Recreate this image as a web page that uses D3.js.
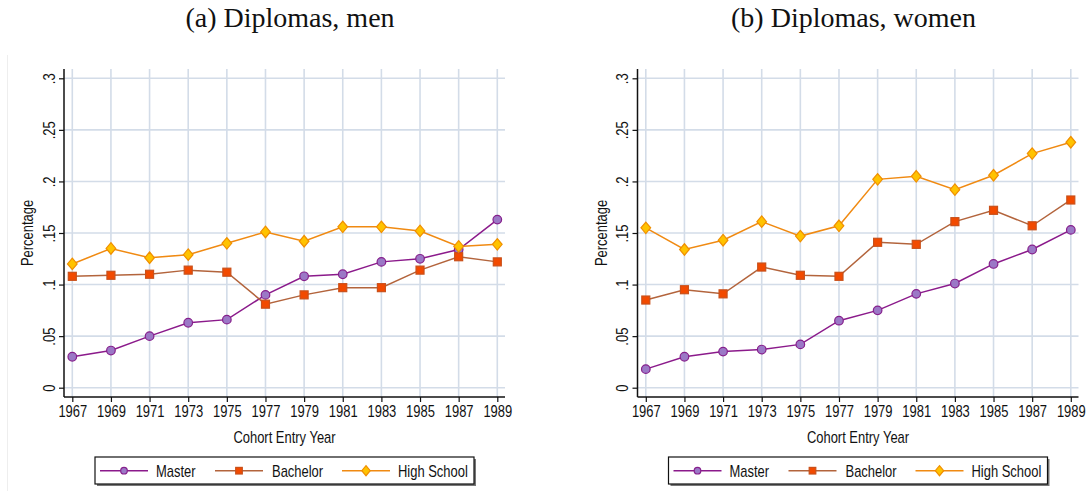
<!DOCTYPE html>
<html>
<head>
<meta charset="utf-8">
<script src="https://cdn.jsdelivr.net/npm/d3@7"></script>
<style>
  body { margin: 0; background: #fff; }
  svg { display: block; }
  text { font-family: "Liberation Sans", Arial, sans-serif; fill: #111; }
  .title { font-family: "Liberation Serif", "Times New Roman", serif; }
</style>
</head>
<body>
<svg id="chart" width="1086" height="491"></svg>
<script>
// cohort entry years
const years = [1967, 1969, 1971, 1973, 1975, 1977, 1979, 1981, 1983, 1985, 1987, 1989];

// men
const menMaster = [0.030, 0.036, 0.050, 0.063, 0.066, 0.090, 0.108, 0.110, 0.122, 0.125, 0.134, 0.163];
const menBachelor = [0.108, 0.109, 0.110, 0.114, 0.112, 0.081, 0.090, 0.097, 0.097, 0.114, 0.127, 0.122];
const menHighSchool = [0.120, 0.135, 0.126, 0.129, 0.140, 0.151, 0.142, 0.156, 0.156, 0.152, 0.137, 0.139];

// women
const womenMaster = [0.018, 0.030, 0.035, 0.037, 0.042, 0.065, 0.075, 0.091, 0.101, 0.120, 0.134, 0.153];
const womenBachelor = [0.085, 0.095, 0.091, 0.117, 0.109, 0.108, 0.141, 0.139, 0.161, 0.172, 0.157, 0.182];
const womenHighSchool = [0.155, 0.134, 0.143, 0.161, 0.147, 0.157, 0.202, 0.205, 0.192, 0.206, 0.227, 0.238];

const yTicks = [0, 0.05, 0.1, 0.15, 0.2, 0.25, 0.3];
const yTickLabels = ["0", ".05", ".1", ".15", ".2", ".25", ".3"];
const seriesNames = ["Master", "Bachelor", "High School"];
const panelTitles = ["(a) Diplomas, men", "(b) Diplomas, women"];

const styles = [
  { line: "#8b1a8b", fill: "#9b78c6", stroke: "#86208c", shape: "circle" },
  { line: "#b3643c", fill: "#f24a00", stroke: "#c9501a", shape: "square" },
  { line: "#f08a12", fill: "#ffc300", stroke: "#f08f00", shape: "diamond" }
];

const svg = d3.select("#chart");
const NARROW = 0.81;

// faint outer frame of the left graph
svg.append("line")
  .attr("x1", 7.5).attr("x2", 7.5).attr("y1", 55).attr("y2", 491)
  .style("stroke", "#eeeeee").style("stroke-width", 1);

function drawMarker(g, shape, cx, cy, st, size) {
  if (shape === "circle") {
    g.append("circle").attr("cx", cx).attr("cy", cy).attr("r", size)
      .style("fill", st.fill).style("stroke", st.stroke).style("stroke-width", 1.2);
  } else if (shape === "square") {
    g.append("rect").attr("x", cx - size).attr("y", cy - size)
      .attr("width", size * 2).attr("height", size * 2)
      .style("fill", st.fill).style("stroke", st.stroke).style("stroke-width", 1.2);
  } else {
    const w = size * 1.05, h = size * 1.25;
    g.append("path")
      .attr("d", `M${cx},${cy - h}L${cx + w},${cy}L${cx},${cy + h}L${cx - w},${cy}Z`)
      .style("fill", st.fill).style("stroke", st.stroke).style("stroke-width", 1.2);
  }
}

function drawPanel(dx, title, titleX, data) {
  const g = svg.append("g").attr("transform", `translate(${dx},0)`);

  const left = 64, right = 505, top = 69, bottom = 397;

  const x = d3.scaleLinear().domain([1967, 1989]).range([72.3, 497.3]);
  const y = d3.scaleLinear().domain([0, 0.3]).range([387.7, 78.3]);

  // title
  g.append("text")
    .attr("class", "title")
    .attr("x", titleX).attr("y", 27)
    .attr("text-anchor", "middle")
    .attr("font-size", "28px")
    .text(title);

  // grid
  g.append("g").selectAll("line")
    .data(yTicks).enter().append("line")
    .attr("x1", left).attr("x2", right)
    .attr("y1", d => y(d)).attr("y2", d => y(d))
    .style("stroke", "#d3dce8").style("stroke-width", 1.6);

  g.append("g").selectAll("line")
    .data(years).enter().append("line")
    .attr("x1", d => x(d)).attr("x2", d => x(d))
    .attr("y1", top).attr("y2", bottom)
    .style("stroke", "#d3dce8").style("stroke-width", 1.6);

  // axes
  const xAxis = g.append("g")
    .attr("transform", `translate(0,${bottom})`)
    .call(d3.axisBottom(x).tickValues(years).tickFormat(d3.format("d")).tickSize(5).tickPadding(4));
  xAxis.select(".domain").remove();
  xAxis.selectAll(".tick line").style("stroke", "#111").style("stroke-width", 1.2);
  xAxis.selectAll("text")
    .attr("font-size", "16px")
    .attr("font-family", "Liberation Sans, Arial, sans-serif")
    .attr("fill", "#111")
    .attr("transform", `scale(${NARROW},1)`);

  const yAxis = g.append("g")
    .attr("transform", `translate(${left},0)`)
    .call(d3.axisLeft(y).tickValues(yTicks).tickFormat((d, i) => yTickLabels[i]).tickSize(5));
  yAxis.select(".domain").remove();
  yAxis.selectAll(".tick line").style("stroke", "#111").style("stroke-width", 1.2);
  yAxis.selectAll("text")
    .attr("font-size", "16px")
    .attr("font-family", "Liberation Sans, Arial, sans-serif")
    .attr("fill", "#111")
    .attr("x", 0).attr("y", -9.5).attr("dy", null)
    .attr("text-anchor", "middle")
    .attr("transform", `rotate(-90) scale(${NARROW},1)`);

  g.append("line").attr("x1", left).attr("x2", left).attr("y1", top).attr("y2", bottom)
    .style("stroke", "#111").style("stroke-width", 1.5);
  g.append("line").attr("x1", left).attr("x2", right).attr("y1", bottom).attr("y2", bottom)
    .style("stroke", "#111").style("stroke-width", 1.5);

  // axis titles
  g.append("text")
    .attr("transform", `translate(${(left + right) / 2},443) scale(${NARROW},1)`)
    .attr("text-anchor", "middle")
    .attr("font-size", "16px")
    .text("Cohort Entry Year");

  g.append("text")
    .attr("transform", `translate(33,${(top + bottom) / 2}) rotate(-90) scale(${NARROW},1)`)
    .attr("text-anchor", "middle")
    .attr("font-size", "16px")
    .text("Percentage");

  // series
  const line = d3.line().x(d => x(d[0])).y(d => y(d[1]));
  data.forEach((vals, si) => {
    const st = styles[si];
    const pts = years.map((yr, i) => [yr, vals[i]]);
    g.append("path")
      .datum(pts)
      .attr("d", line)
      .style("fill", "none")
      .style("stroke", st.line)
      .style("stroke-width", 1.5);
  });
  data.forEach((vals, si) => {
    const st = styles[si];
    const mg = g.append("g");
    years.forEach((yr, i) => {
      const size = st.shape === "circle" ? 4.3 : st.shape === "square" ? 4 : 4.6;
      drawMarker(mg, st.shape, x(yr), y(vals[i]), st, size);
    });
  });

  // legend
  const lg = g.append("g");
  lg.append("rect").attr("x", 97).attr("y", 459).attr("width", 379).attr("height", 27)
    .style("fill", "#777");
  lg.append("rect").attr("x", 95).attr("y", 457).attr("width", 379).attr("height", 27)
    .style("fill", "#fff").style("stroke", "#111").style("stroke-width", 1.2);

  const legendX = [100, 215, 342];
  const legendTextX = [156, 272, 398];
  seriesNames.forEach((name, si) => {
    const st = styles[si];
    const lx = legendX[si];
    lg.append("line").attr("x1", lx).attr("x2", lx + 48).attr("y1", 470.7).attr("y2", 470.7)
      .style("stroke", st.line).style("stroke-width", 1.5);
    const size = st.shape === "circle" ? 3.3 : st.shape === "square" ? 3.3 : 4;
    drawMarker(lg, st.shape, lx + 24, 470.7, st, size);
    lg.append("text")
      .attr("transform", `translate(${legendTextX[si]},476.5) scale(${NARROW},1)`)
      .attr("font-size", "16px")
      .text(name);
  });
}

drawPanel(0, panelTitles[0], 290, [menMaster, menBachelor, menHighSchool]);
drawPanel(573.5, panelTitles[1], 280, [womenMaster, womenBachelor, womenHighSchool]);
</script>
</body>
</html>
